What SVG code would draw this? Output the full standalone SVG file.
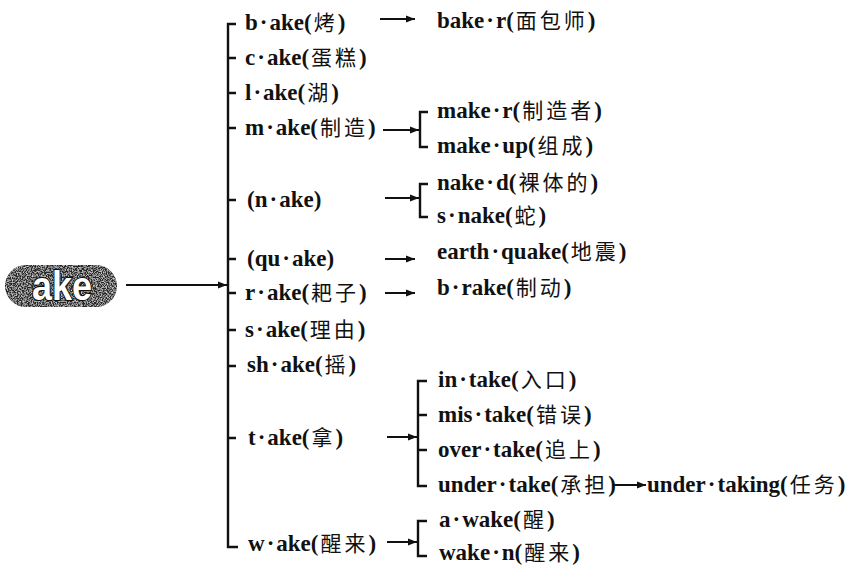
<svg xmlns="http://www.w3.org/2000/svg" width="849" height="566" viewBox="0 0 849 566">
<style>
.en{font-family:"Liberation Serif","Times New Roman",serif;font-weight:bold;font-size:23px;fill:#111}
.zh{font-family:"Noto Sans CJK SC","Noto Sans CJK TC",sans-serif;font-weight:400;font-size:21px;letter-spacing:3px;fill:#111}
.ln{fill:none;stroke:#111;stroke-width:2.4}
.ar{fill:none;stroke:#111;stroke-width:2}
.pill-t{font-family:"Liberation Sans",Arial,sans-serif;font-weight:bold;font-size:41px;fill:#fff;stroke:#111;stroke-width:2.2;paint-order:stroke}
</style>
<defs>
<marker id="ah" markerUnits="userSpaceOnUse" markerWidth="10" markerHeight="9" refX="9" refY="4.5" orient="auto">
<path d="M0,1 L9,4.5 L0,8 z" fill="#111"/>
</marker>
<filter id="grain" x="0" y="0" width="1" height="1">
<feTurbulence type="fractalNoise" baseFrequency="0.8" numOctaves="2" seed="5" result="n"/>
<feColorMatrix in="n" type="matrix" values="0 0 0 0 0.72 0 0 0 0 0.72 0 0 0 0 0.72 0 0 0 2.4 -1.0" result="s"/>
<feComposite in="s" in2="SourceGraphic" operator="in" result="t"/>
<feMerge><feMergeNode in="SourceGraphic"/><feMergeNode in="t"/></feMerge>
</filter>
</defs>
<rect width="849" height="566" fill="#fff"/>

<g id="root-ake">
<rect x="5" y="265" width="112" height="42" rx="21" fill="#262626" filter="url(#grain)"/>
<text class="pill-t" x="62" y="300" text-anchor="middle" textLength="60" lengthAdjust="spacingAndGlyphs">ake</text>
</g>

<g id="connectors">
<path class="ln" d="M236,24 H228 V547 H238"/>
<path class="ln" d="M228,58 H236 M228,93 H236 M228,128 H236 M228,200 H236 M228,259 H236 M228,293 H236 M228,330 H236 M228,366 H236 M228,438 H236"/>
<path class="ar" d="M126,285 H227" marker-end="url(#ah)"/>
<path class="ar" d="M380,19 H415" marker-end="url(#ah)"/>
<path class="ar" d="M383,130 H419" marker-end="url(#ah)"/>
<path class="ln" d="M428,112 H420 V147 H428"/>
<path class="ar" d="M385,198 H419" marker-end="url(#ah)"/>
<path class="ln" d="M428,184 H420 V217 H428"/>
<path class="ar" d="M385,259 H415" marker-end="url(#ah)"/>
<path class="ar" d="M385,293 H415" marker-end="url(#ah)"/>
<path class="ar" d="M387,437 H417" marker-end="url(#ah)"/>
<path class="ln" d="M427,381 H418 V486 H427 M418,415 H427 M418,450 H427"/>
<path class="ar" d="M613,485 H646" marker-end="url(#ah)"/>
<path class="ar" d="M387,542 H417" marker-end="url(#ah)"/>
<path class="ln" d="M427,521 H418 V556 H427"/>
</g>

<g id="n-bake"><text class="en" x="245" y="30">b<tspan dx="2">·</tspan><tspan dx="2">ake(</tspan><tspan class="zh" dx="2">烤</tspan><tspan dx="0">)</tspan></text></g>
<g id="n-cake"><text class="en" x="245" y="65">c<tspan dx="2">·</tspan><tspan dx="2">ake(</tspan><tspan class="zh" dx="2">蛋糕</tspan><tspan dx="0">)</tspan></text></g>
<g id="n-lake"><text class="en" x="245" y="100">l<tspan dx="2">·</tspan><tspan dx="2">ake(</tspan><tspan class="zh" dx="2">湖</tspan><tspan dx="0">)</tspan></text></g>
<g id="n-make"><text class="en" x="245" y="135">m<tspan dx="2">·</tspan><tspan dx="2">ake(</tspan><tspan class="zh" dx="2">制造</tspan><tspan dx="0">)</tspan></text></g>
<g id="n-nake"><text class="en" x="247" y="207">(n<tspan dx="2">·</tspan><tspan dx="2">ake)</tspan></text></g>
<g id="n-quake"><text class="en" x="247" y="266">(qu<tspan dx="2">·</tspan><tspan dx="2">ake)</tspan></text></g>
<g id="n-rake"><text class="en" x="245" y="300">r<tspan dx="2">·</tspan><tspan dx="2">ake(</tspan><tspan class="zh" dx="2">耙子</tspan><tspan dx="0">)</tspan></text></g>
<g id="n-sake"><text class="en" x="245" y="337">s<tspan dx="2">·</tspan><tspan dx="2">ake(</tspan><tspan class="zh" dx="2">理由</tspan><tspan dx="0">)</tspan></text></g>
<g id="n-shake"><text class="en" x="247" y="372">sh<tspan dx="2">·</tspan><tspan dx="2">ake(</tspan><tspan class="zh" dx="2">摇</tspan><tspan dx="0">)</tspan></text></g>
<g id="n-take"><text class="en" x="248" y="445">t<tspan dx="2">·</tspan><tspan dx="2">ake(</tspan><tspan class="zh" dx="2">拿</tspan><tspan dx="0">)</tspan></text></g>
<g id="n-wake"><text class="en" x="248" y="551">w<tspan dx="2">·</tspan><tspan dx="2">ake(</tspan><tspan class="zh" dx="2">醒来</tspan><tspan dx="0">)</tspan></text></g>

<g id="n-baker"><text class="en" x="437" y="28">bake<tspan dx="2">·</tspan><tspan dx="2">r(</tspan><tspan class="zh" dx="2">面包师</tspan><tspan dx="0">)</tspan></text></g>
<g id="n-maker"><text class="en" x="437" y="118">make<tspan dx="2">·</tspan><tspan dx="2">r(</tspan><tspan class="zh" dx="2">制造者</tspan><tspan dx="0">)</tspan></text></g>
<g id="n-makeup"><text class="en" x="437" y="153">make<tspan dx="2">·</tspan><tspan dx="2">up(</tspan><tspan class="zh" dx="2">组成</tspan><tspan dx="0">)</tspan></text></g>
<g id="n-naked"><text class="en" x="437" y="190">nake<tspan dx="2">·</tspan><tspan dx="2">d(</tspan><tspan class="zh" dx="2">裸体的</tspan><tspan dx="0">)</tspan></text></g>
<g id="n-snake"><text class="en" x="437" y="223">s<tspan dx="2">·</tspan><tspan dx="2">nake(</tspan><tspan class="zh" dx="2">蛇</tspan><tspan dx="0">)</tspan></text></g>
<g id="n-earthquake"><text class="en" x="437" y="259">earth<tspan dx="2">·</tspan><tspan dx="2">quake(</tspan><tspan class="zh" dx="2">地震</tspan><tspan dx="0">)</tspan></text></g>
<g id="n-brake"><text class="en" x="437" y="295">b<tspan dx="2">·</tspan><tspan dx="2">rake(</tspan><tspan class="zh" dx="2">制动</tspan><tspan dx="0">)</tspan></text></g>
<g id="n-intake"><text class="en" x="438" y="387">in<tspan dx="2">·</tspan><tspan dx="2">take(</tspan><tspan class="zh" dx="2">入口</tspan><tspan dx="0">)</tspan></text></g>
<g id="n-mistake"><text class="en" x="438" y="422">mis<tspan dx="2">·</tspan><tspan dx="2">take(</tspan><tspan class="zh" dx="2">错误</tspan><tspan dx="0">)</tspan></text></g>
<g id="n-overtake"><text class="en" x="438" y="457">over<tspan dx="2">·</tspan><tspan dx="2">take(</tspan><tspan class="zh" dx="2">追上</tspan><tspan dx="0">)</tspan></text></g>
<g id="n-undertake"><text class="en" x="438" y="492">under<tspan dx="2">·</tspan><tspan dx="2">take(</tspan><tspan class="zh" dx="2">承担</tspan><tspan dx="0">)</tspan></text></g>
<g id="n-undertaking"><text class="en" x="647" y="492">under<tspan dx="2">·</tspan><tspan dx="2">taking(</tspan><tspan class="zh" dx="2">任务</tspan><tspan dx="0">)</tspan></text></g>
<g id="n-awake"><text class="en" x="439" y="527">a<tspan dx="2">·</tspan><tspan dx="2">wake(</tspan><tspan class="zh" dx="2">醒</tspan><tspan dx="0">)</tspan></text></g>
<g id="n-waken"><text class="en" x="439" y="560">wake<tspan dx="2">·</tspan><tspan dx="2">n(</tspan><tspan class="zh" dx="2">醒来</tspan><tspan dx="0">)</tspan></text></g>
</svg>
